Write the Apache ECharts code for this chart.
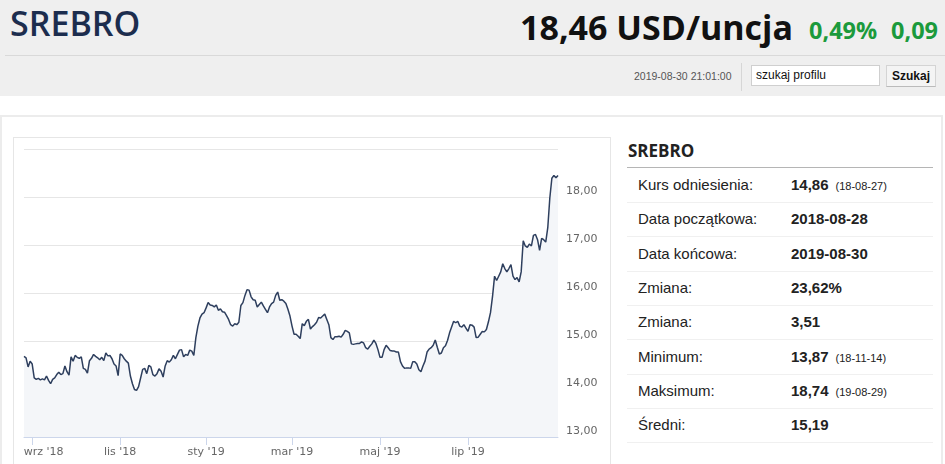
<!DOCTYPE html>
<html lang="pl">
<head>
<meta charset="utf-8">
<script src="https://cdn.jsdelivr.net/npm/echarts@6/dist/echarts.min.js"></script>
<style>
  html, body { margin:0; padding:0; width:945px; height:464px; overflow:hidden; background:#fff; font-family:"Liberation Sans", Arial, sans-serif; }
  .abs { position:absolute; white-space:nowrap; }
  #header { position:absolute; left:0; top:0; width:945px; height:96px; background:#efefef; }
  #sep { position:absolute; left:5px; top:55px; width:940px; height:1px; background:#d9d9d9; }
  #title { left:10px; top:6px; font-family:"Open Sans", sans-serif; font-weight:600; font-size:34px; line-height:35px; color:#1c2d4e; }
  #price { left:520px; top:10px; font-family:"Open Sans", sans-serif; font-weight:700; font-size:34px; line-height:34px; color:#111; }
  #pct { left:809px; top:18px; font-family:"Open Sans", sans-serif; font-weight:700; font-size:23.5px; line-height:24px; color:#1b9a3c; }
  #chg { left:891px; top:18px; font-family:"Open Sans", sans-serif; font-weight:700; font-size:23.5px; line-height:24px; color:#1b9a3c; }
  #stamp { left:634px; top:70px; font-size:10.5px; line-height:12px; color:#555; }
  #vsep { position:absolute; left:741px; top:63px; width:1px; height:28px; background:#d6d6d6; }
  #search { position:absolute; left:751px; top:65px; width:129px; height:21px; background:#fff; border:1px solid #cfcfcf; box-sizing:border-box; font-size:12px; line-height:19px; padding-left:4px; color:#111; }
  #btn { position:absolute; left:886px; top:65px; width:50px; height:22px; background:#f4f4f4; border:1px solid #d4d4d4; border-bottom-color:#bbb; box-sizing:border-box; font-size:12px; font-weight:700; line-height:20px; text-align:center; color:#111; }
  #panel { position:absolute; left:0; top:115px; width:943px; height:360px; border:2px solid #ececec; box-sizing:border-box; }
  #frame { position:absolute; left:13px; top:137px; width:598px; height:340px; border:1px solid #e6e6e6; box-sizing:border-box; }
  #chart { position:absolute; left:14px; top:138px; width:596px; height:326px; }
  #ptitle { left:628px; top:141px; font-family:"Open Sans", sans-serif; font-weight:700; font-size:17px; line-height:20px; color:#222; }
  .hline { position:absolute; left:627px; width:306px; height:1px; background:#f0f0f0; }
  .lbl { position:absolute; left:638px; font-size:15px; line-height:18px; color:#222; white-space:nowrap; }
  .val { position:absolute; left:791px; font-size:15px; line-height:18px; font-weight:700; color:#222; white-space:nowrap; }
  .val small { font-size:11px; font-weight:400; margin-left:7px; }
</style>
</head>
<body>
<div id="header"></div>
<div id="sep"></div>
<div class="abs" id="title">SREBRO</div>
<div class="abs" id="price">18,46 USD/uncja</div>
<div class="abs" id="pct">0,49%</div>
<div class="abs" id="chg">0,09</div>
<div class="abs" id="stamp">2019-08-30 21:01:00</div>
<div id="vsep"></div>
<div id="search">szukaj profilu</div>
<div id="btn">Szukaj</div>
<div id="panel"></div>
<div id="frame"></div>
<div id="chart"></div>
<div class="abs" id="ptitle">SREBRO</div>
<div id="rows"></div>
<script>
// ---- chart data (closing prices, USD/ounce, trading days 2018-08-28 .. 2019-08-30) ----
const startDate = '2018-08-28';
const endDate = '2019-08-30';
const holidays = ['2018-12-25', '2019-01-01'];

const values2018Q3 = [14.68,14.65,14.46,14.58,14.52,14.23,14.20,14.22,14.19,14.21,14.19,14.27,14.18,14.11,14.20,14.23,14.30,14.35,14.30,14.32,14.48,14.36,14.29,14.67];
const values2018Q4 = [14.58,14.70,14.66,14.64,14.67,14.43,14.41,14.33,14.59,14.64,14.72,14.68,14.65,14.61,14.66,14.59,14.75,14.69,14.70,14.63,14.52,14.48,14.28,
  14.73,14.70,14.63,14.58,14.54,14.27,14.11,13.99,13.97,14.05,14.23,14.41,14.43,14.32,14.49,14.46,14.30,14.27,14.32,14.42,14.37,14.25,
  14.48,14.59,14.56,14.61,14.70,14.63,14.72,14.81,14.82,14.67,14.72,14.70,14.81,14.79,14.70,15.07,15.31,15.48,15.56,15.59];
const values2019Q1 = [15.69,15.80,15.75,15.74,15.71,15.75,15.64,15.67,15.61,15.60,15.53,15.45,15.34,15.31,15.36,15.34,15.39,15.74,15.80,15.95,16.07,16.06,
  15.92,15.86,15.85,15.71,15.76,15.81,15.73,15.66,15.59,15.71,15.78,15.81,15.95,16.02,15.85,15.86,15.83,15.78,15.66,15.52,
  15.31,15.14,15.14,15.10,15.05,15.36,15.32,15.41,15.45,15.25,15.30,15.34,15.39,15.49,15.48,15.52,15.56,15.45,15.34,15.07,15.03];
const values2019Q2 = [15.09,15.09,15.10,15.08,15.14,15.22,15.20,15.17,14.94,14.93,14.94,14.95,14.95,14.98,14.96,14.86,14.83,14.89,14.94,15.02,14.95,14.82,
  14.66,14.66,14.82,14.91,14.86,14.80,14.79,14.79,14.77,14.77,14.57,14.48,14.43,14.44,14.44,14.43,14.57,14.57,14.52,14.40,14.36,14.48,14.58,
  14.77,14.83,14.86,14.91,15.02,14.87,14.73,14.75,14.86,14.90,15.01,15.17,15.29,15.41,15.38,15.41,15.31,15.29,15.34,15.27];
const values2019Q3 = [15.20,15.34,15.33,15.29,15.07,15.08,15.14,15.20,15.19,15.24,15.40,15.59,15.93,16.35,16.26,16.35,16.44,16.61,16.51,16.44,16.51,16.59,16.35,
  16.28,16.32,16.23,16.44,17.09,16.98,16.95,17.02,16.98,17.20,17.22,17.11,16.89,17.14,17.11,17.06,17.36,17.98,18.39,18.45,18.40,18.45];

const tickMonths = ['2018-09', '2018-11', '2019-01', '2019-03', '2019-05', '2019-07'];
const tickLabels = ["wrz '18", "lis '18", "sty '19", "mar '19", "maj '19", "lip '19"];

const yTicks = [13, 14, 15, 16, 17, 18, 19];

// ---- side table ----
const statLabels = ['Kurs odniesienia:', 'Data początkowa:', 'Data końcowa:', 'Zmiana:', 'Zmiana:', 'Minimum:', 'Maksimum:', 'Średni:'];
const statValues = ['14,86', '2018-08-28', '2019-08-30', '23,62%', '3,51', '13,87', '18,74', '15,19'];
const statNotes  = ['(18-08-27)', '', '', '', '', '(18-11-14)', '(19-08-29)', ''];

(function buildRows(){
  const rows = document.getElementById('rows');
  let html = '<div class="hline" style="top:167px;background:#b5b5b5"></div>';
  for (let k = 0; k < statLabels.length; k++) {
    const cy = 185 + k * 34.3;
    html += '<div class="lbl" style="top:' + (cy - 9) + 'px">' + statLabels[k] + '</div>';
    html += '<div class="val" style="top:' + (cy - 9) + 'px">' + statValues[k] + (statNotes[k] ? '<small>' + statNotes[k] + '</small>' : '') + '</div>';
    html += '<div class="hline" style="top:' + Math.round(cy + 17) + 'px"></div>';
  }
  rows.innerHTML = html;
})();

// ---- build trading-day categories ----
function fmt(d){ const m = d.getUTCMonth()+1, day = d.getUTCDate(); return d.getUTCFullYear() + '-' + (m<10?'0':'') + m + '-' + (day<10?'0':'') + day; }
const dates = [];
for (let d = new Date(startDate + 'T00:00:00Z'); fmt(d) <= endDate; d.setUTCDate(d.getUTCDate()+1)) {
  const wd = d.getUTCDay();
  const s = fmt(d);
  if (wd !== 0 && wd !== 6 && holidays.indexOf(s) < 0) dates.push(s);
}
const values = [].concat(values2018Q3, values2018Q4, values2019Q1, values2019Q2, values2019Q3);

const tickIdx = tickMonths.map(m => dates.findIndex(s => s.slice(0,7) === m));
const labelFont = { fontFamily: 'DejaVu Sans', fontSize: 11, color: '#666666' };

const chart = echarts.init(document.getElementById('chart'), null, { renderer: 'canvas' });
chart.setOption({
  animation: false,
  grid: { left: 10, right: 52, top: 11, bottom: 27 },
  xAxis: {
    type: 'category',
    data: dates,
    boundaryGap: false,
    axisLine: { lineStyle: { color: '#ccd6eb', width: 1 } },
    axisTick: { show: true, length: 8, lineStyle: { color: '#ccd6eb' }, interval: (i) => tickIdx.indexOf(i) >= 0 },
    axisLabel: {
      interval: (i) => tickIdx.indexOf(i) >= 0,
      margin: 10,
      ...labelFont,
      formatter: (v, i) => {
        const k = tickIdx.indexOf(i);
        if (k < 0) return '';
        return k === 0 ? '{f|' + tickLabels[k] + '}' : tickLabels[k];
      },
      rich: { f: { ...labelFont, padding: [0, 0, 0, 23] } }
    },
    splitLine: { show: false }
  },
  yAxis: {
    type: 'value',
    position: 'right',
    min: yTicks[0],
    max: yTicks[yTicks.length - 1],
    interval: 1,
    axisLine: { show: false },
    axisTick: { show: false },
    splitLine: { lineStyle: { color: '#e6e6e6', width: 1 } },
    axisLabel: {
      margin: 8,
      ...labelFont,
      verticalAlign: 'bottom',
      lineHeight: 12,
      formatter: (v) => v === yTicks[yTicks.length - 1] ? '' : v.toFixed(2).replace('.', ',')
    }
  },
  series: [{
    type: 'line',
    data: values,
    showSymbol: false,
    smooth: false,
    lineStyle: { color: '#2e3f5e', width: 1.5 },
    areaStyle: { color: '#f4f6f9', origin: 'start', opacity: 1 }
  }]
});
</script>
</body>
</html>
